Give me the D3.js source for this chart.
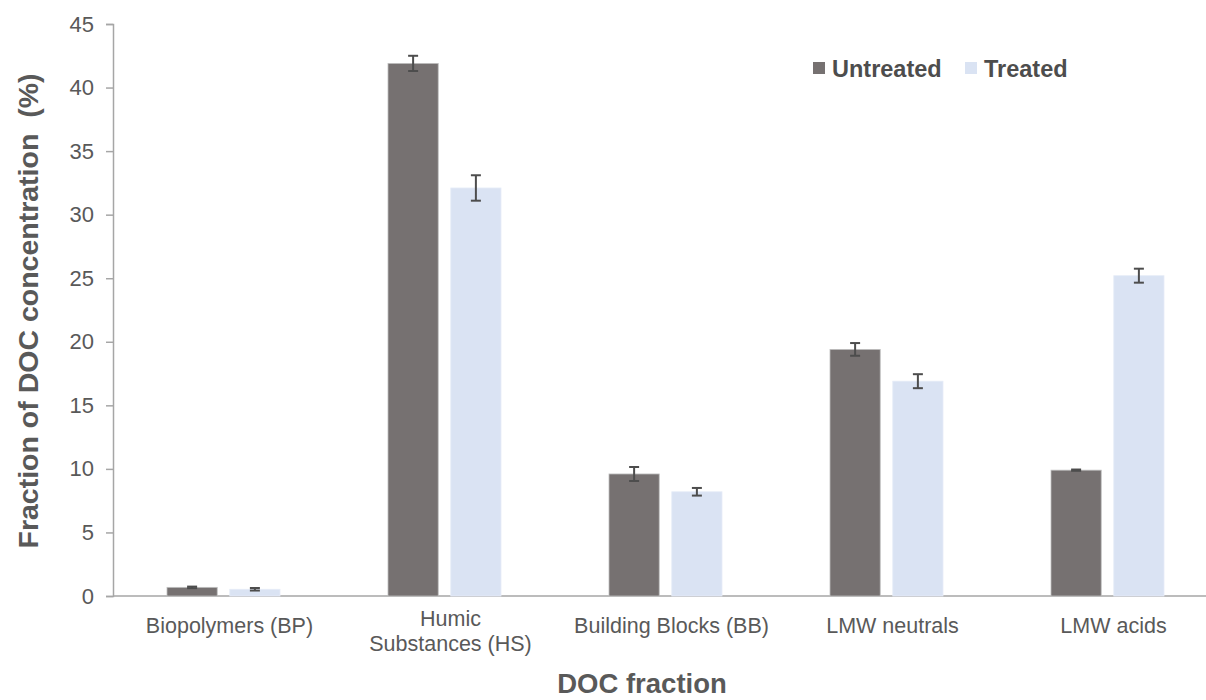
<!DOCTYPE html>
<html>
<head>
<meta charset="utf-8">
<script src="https://cdn.jsdelivr.net/npm/d3@7"></script>
<style>
  html, body { margin: 0; padding: 0; background: #ffffff; }
  svg { display: block; font-family: "Liberation Sans", Arial, sans-serif; }
</style>
</head>
<body>
<svg id="chart" width="1206" height="700"></svg>
<script>
// DOC fraction distribution, untreated vs treated (mean ± error)
const categories = ["Biopolymers (BP)", "Humic Substances (HS)", "Building Blocks (BB)", "LMW neutrals", "LMW acids"];
const categoryLines = [["Biopolymers (BP)"], ["Humic", "Substances (HS)"], ["Building Blocks (BB)"], ["LMW neutrals"], ["LMW acids"]];
const seriesNames = ["Untreated", "Treated"];
const untreatedValues = [0.68, 41.9, 9.6, 19.4, 9.9];
const untreatedErrors = [0.06, 0.6, 0.55, 0.5, 0.05];
const treatedValues = [0.53, 32.1, 8.2, 16.9, 25.2];
const treatedErrors = [0.1, 1.0, 0.3, 0.55, 0.55];
const yTicks = [0, 5, 10, 15, 20, 25, 30, 35, 40, 45];

const colors = { Untreated: "#767171", Treated: "#dae3f3" };
const textColor = "#595959";
const axisColor = "#a6a6a6";

const svg = d3.select("#chart");

const plot = { left: 113, top: 24, bottom: 596, right: 1206 };

const y = d3.scaleLinear().domain([0, 45]).range([plot.bottom, plot.top]);
const x0 = d3.scaleBand().domain(categories).range([plot.left, plot.left + 221 * categories.length]).padding(0);
const x1 = d3.scaleBand().domain(seriesNames).range([-56.5, 56.5]).paddingInner(0.2);

const rows = categories.map((c, i) => ({
  category: c,
  lines: categoryLines[i],
  values: [
    { series: "Untreated", value: untreatedValues[i], err: untreatedErrors[i] },
    { series: "Treated", value: treatedValues[i], err: treatedErrors[i] }
  ]
}));

// Y axis
const yAxis = d3.axisLeft(y).tickValues(yTicks).tickSize(7).tickPadding(12).tickFormat(d3.format("d"));
const yG = svg.append("g").attr("transform", `translate(${plot.left},0)`).call(yAxis);
yG.select(".domain").attr("stroke", axisColor).attr("stroke-width", 1.5);
yG.selectAll(".tick line").attr("stroke", axisColor).attr("stroke-width", 1.5);
yG.selectAll(".tick text").attr("fill", textColor).attr("font-size", 22)
  .attr("font-family", "'Liberation Sans', Arial, sans-serif");

// X baseline
svg.append("line")
  .attr("x1", plot.left).attr("x2", plot.right)
  .attr("y1", y(0)).attr("y2", y(0))
  .attr("stroke", axisColor).attr("stroke-width", 1.5);

// Bars
const groups = svg.append("g").selectAll("g.group")
  .data(rows).join("g")
  .attr("class", "group")
  .attr("transform", d => `translate(${x0(d.category) + x0.bandwidth() / 2},0)`);

groups.selectAll("rect")
  .data(d => d.values).join("rect")
  .attr("x", d => x1(d.series))
  .attr("width", x1.bandwidth())
  .attr("y", d => y(d.value))
  .attr("height", d => y(0) - y(d.value))
  .attr("fill", d => colors[d.series])
  .attr("stroke", d => d.series === "Untreated" ? "#bfbfbf" : "#e6ecf7")
  .attr("stroke-width", 0.8);

// Error bars
const capHalf = 5;
const eb = groups.selectAll("g.err")
  .data(d => d.values).join("g")
  .attr("class", "err")
  .attr("stroke", "#4d4d4d").attr("stroke-width", 2);
eb.append("line")
  .attr("x1", d => x1(d.series) + x1.bandwidth() / 2)
  .attr("x2", d => x1(d.series) + x1.bandwidth() / 2)
  .attr("y1", d => y(d.value + d.err)).attr("y2", d => y(d.value - d.err));
eb.append("line")
  .attr("x1", d => x1(d.series) + x1.bandwidth() / 2 - capHalf)
  .attr("x2", d => x1(d.series) + x1.bandwidth() / 2 + capHalf)
  .attr("y1", d => y(d.value + d.err)).attr("y2", d => y(d.value + d.err));
eb.append("line")
  .attr("x1", d => x1(d.series) + x1.bandwidth() / 2 - capHalf)
  .attr("x2", d => x1(d.series) + x1.bandwidth() / 2 + capHalf)
  .attr("y1", d => y(d.value - d.err)).attr("y2", d => y(d.value - d.err));

// Category labels
const catLabels = svg.append("g").selectAll("text")
  .data(rows).join("text")
  .attr("x", d => x0(d.category) + x0.bandwidth() / 2 + 6)
  .attr("y", d => d.lines.length > 1 ? 625.5 : 632.5)
  .attr("text-anchor", "middle")
  .attr("fill", textColor)
  .attr("font-size", 21.5);
catLabels.selectAll("tspan")
  .data(d => d.lines).join("tspan")
  .attr("x", function () { return d3.select(this.parentNode).attr("x"); })
  .attr("dy", (d, i) => i === 0 ? 0 : 25)
  .text(d => d);

// Axis titles
svg.append("text")
  .attr("x", 642).attr("y", 693)
  .attr("text-anchor", "middle")
  .attr("fill", textColor)
  .attr("font-size", 27.5).attr("font-weight", "bold")
  .text("DOC fraction");

svg.append("text")
  .attr("transform", "translate(38,311) rotate(-90)")
  .attr("text-anchor", "middle")
  .attr("fill", textColor)
  .attr("font-size", 28.5).attr("font-weight", "bold")
  .attr("xml:space", "preserve")
  .style("white-space", "pre")
  .text("Fraction of DOC concentration  (%)");

// Legend
const legendX = [813, 965];
const legend = svg.append("g").selectAll("g")
  .data(seriesNames).join("g")
  .attr("transform", (d, i) => `translate(${legendX[i]},62)`);
legend.append("rect")
  .attr("width", 12).attr("height", 12)
  .attr("fill", d => colors[d]);
legend.append("text")
  .attr("x", 19).attr("y", 14.5)
  .attr("fill", "#4d4d4d")
  .attr("font-size", 23.5).attr("font-weight", "bold")
  .text(d => d);
</script>
</body>
</html>
